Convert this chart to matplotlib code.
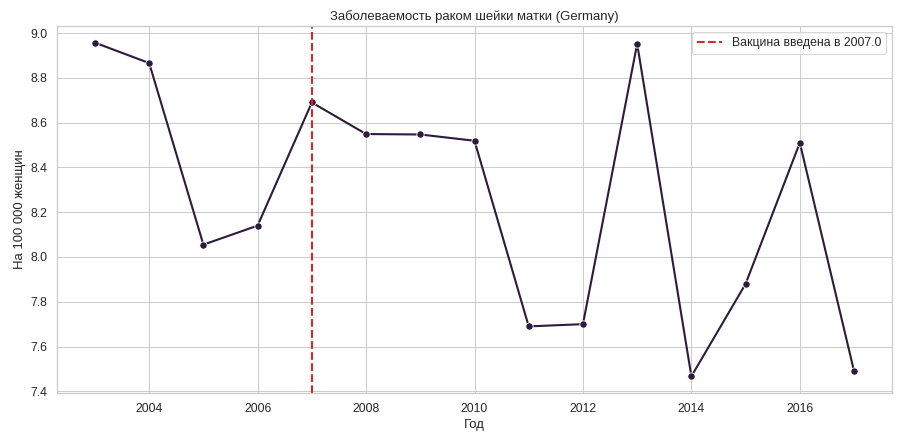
import matplotlib
matplotlib.use("Agg")
import matplotlib.pyplot as plt
import seaborn as sns

years = [2003, 2004, 2005, 2006, 2007, 2008, 2009, 2010, 2011, 2012, 2013, 2014, 2015, 2016, 2017]
rates = [8.957, 8.866, 8.055, 8.14, 8.69, 8.549, 8.547, 8.519, 7.69, 7.70, 8.952, 7.467, 7.88, 8.51, 7.49]
vaccine_year = 2007.0

sns.set_theme(style="whitegrid")
plt.rcParams['font.family'] = ['Liberation Sans', 'DejaVu Sans']

fig, ax = plt.subplots(figsize=(12, 5.92), dpi=75)
fig.subplots_adjust(left=57/900, right=892/900, top=1-26/444, bottom=1-393/444)

ax.plot(years, rates, color="#2d1b3d", marker="o", markersize=7,
        markeredgecolor="white", markeredgewidth=0.75, linewidth=2)
ax.axvline(vaccine_year, color="#d62728", linestyle="--", linewidth=2,
           label=f"Вакцина введена в {vaccine_year}")

ax.set_title("Заболеваемость раком шейки матки (Germany)", fontsize=12.6)
ax.set_xlabel("Год", fontsize=12.6)
ax.set_ylabel("На 100 000 женщин", fontsize=12.6)
ax.tick_params(labelsize=11.8)
ax.legend(loc="upper right", fontsize=11.8)

fig.savefig("out.png", dpi=75)
